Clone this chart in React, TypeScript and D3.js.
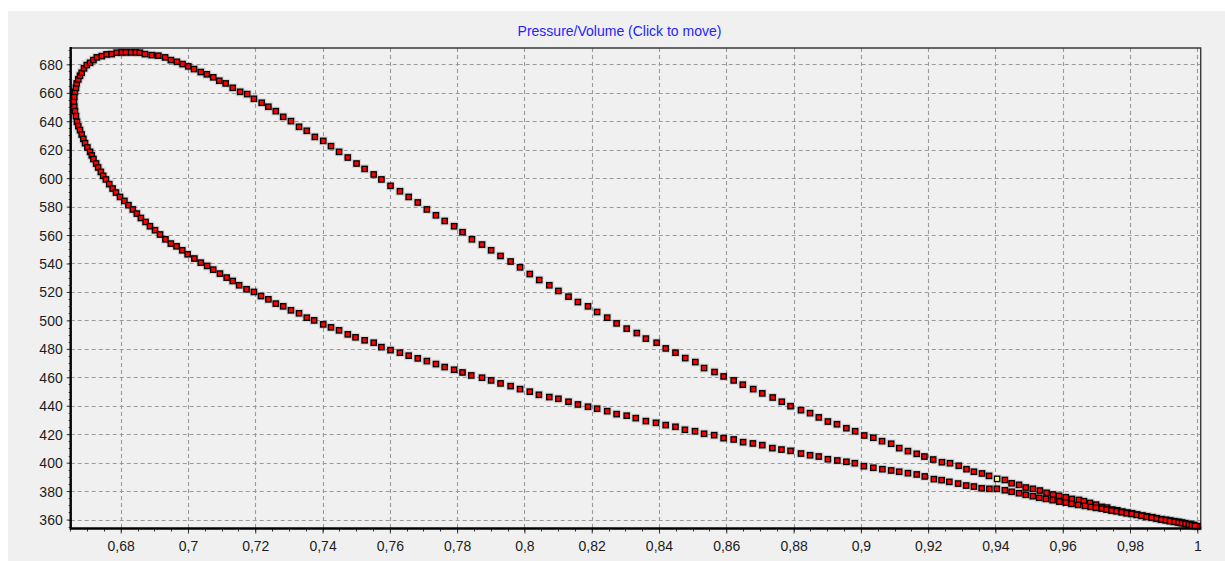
import { useEffect, useRef } from "react";
import * as d3 from "d3";

// Upper branch of the loop: from the left nose, over the peak, down to V = 1
const upperVolume = [
  0.6661, 0.6662, 0.6664, 0.6667, 0.6669, 0.6674, 0.6679, 0.6684, 0.6691, 0.6699,
  0.6709, 0.6719, 0.6729, 0.6744, 0.6758, 0.6773, 0.6788, 0.6803, 0.6816, 0.6831,
  0.6845, 0.6857, 0.6872, 0.6892, 0.6912, 0.6932, 0.6949, 0.6967, 0.6984, 0.7001,
  0.7018, 0.7038, 0.7056, 0.7075, 0.7093, 0.7112, 0.7133, 0.7155, 0.7176, 0.7196,
  0.7219, 0.7239, 0.7261, 0.7283, 0.7306, 0.733, 0.7353, 0.7377, 0.7402, 0.7425,
  0.7449, 0.7475, 0.7501, 0.7525, 0.7552, 0.7575, 0.7602, 0.763, 0.7656, 0.7683,
  0.771, 0.7737, 0.7763, 0.7791, 0.7816, 0.7844, 0.7874, 0.7901, 0.7929, 0.7959,
  0.7987, 0.8016, 0.8044, 0.8074, 0.8101, 0.8131, 0.8159, 0.8189, 0.8216, 0.8246,
  0.8274, 0.8304, 0.8334, 0.8361, 0.8393, 0.842, 0.8449, 0.8478, 0.8508, 0.8534,
  0.8565, 0.8592, 0.8622, 0.8649, 0.868, 0.8707, 0.8738, 0.8765, 0.8791, 0.8822,
  0.8849, 0.8875, 0.8902, 0.8929, 0.8957, 0.8983, 0.901, 0.9037, 0.9063, 0.909,
  0.9114, 0.914, 0.9166, 0.9189, 0.9215, 0.9241, 0.9265, 0.9291, 0.9314, 0.9336,
  0.936, 0.9381, 0.9405, 0.9428, 0.9448, 0.947, 0.949, 0.9511, 0.9532, 0.9552,
  0.9571, 0.9589, 0.9609, 0.9627, 0.9648, 0.9663, 0.9681, 0.9699, 0.9716, 0.9732,
  0.9747, 0.9762, 0.9777, 0.9793, 0.9806, 0.9821, 0.9837, 0.9851, 0.9866, 0.9879,
  0.9892, 0.9906, 0.9919, 0.9931, 0.9943, 0.9954, 0.9963, 0.9972, 0.9981, 0.999,
  1.0,
];
const upperPressure = [
  653.7, 657.2, 660.7, 663.5, 666.6, 669.4, 672, 674.1, 677.2, 679.5,
  681.1, 683, 684.9, 685.8, 687, 687.2, 688.2, 688.4, 688.4, 688.4,
  688.4, 688.2, 687.2, 686.5, 686.1, 684.9, 683, 681.8, 680.2, 678.6,
  676.7, 674.6, 673, 670.9, 668.5, 666.6, 663.5, 660.7, 659.1, 655.8,
  653, 650.2, 647.1, 643.1, 640.1, 636.1, 633.3, 629, 626.2, 622.5,
  618.5, 614.5, 610.3, 606.5, 602.6, 599.1, 594.6, 590.8, 586.8, 582.9,
  578, 573.9, 569.9, 566.2, 562, 557, 553.3, 549.3, 545.3, 541.4,
  537.3, 532.6, 528.4, 524.7, 520.7, 516.7, 512.9, 509.9, 505.9, 501.9,
  497.9, 494.2, 491.1, 487.2, 484.3, 480.3, 477.3, 473.5, 470.7, 466.5,
  463.7, 460.6, 457.8, 454.8, 451.7, 448.7, 445.8, 442.8, 439.7, 436.9,
  434.8, 431.8, 428.9, 427, 424.2, 422.1, 419.1, 417.5, 415.1, 413.3,
  410.2, 408.1, 406.2, 404.3, 402.2, 400.3, 399.6, 397.8, 395.4, 393.6,
  392.4, 390.7, 388.6, 387.8, 385.5, 384.4, 382.5, 381.6, 380.4, 378.8,
  377.6, 376.7, 375.7, 374.5, 373.8, 372.9, 371.7, 370.5, 368.9, 368.4,
  367, 366.5, 365.6, 364.9, 364.4, 363.5, 362.8, 362.1, 361.6, 360.9,
  360.2, 359.8, 359.3, 358.8, 358.4, 357.9, 357.4, 356.9, 356.5, 356.1,
  355.3,
];

// Lower branch: from the left nose down to V = 1
const lowerVolume = [
  0.6662, 0.6664, 0.6667, 0.667, 0.6674, 0.6679, 0.6684, 0.6689, 0.6694, 0.6701,
  0.6709, 0.6714, 0.6719, 0.6727, 0.6733, 0.6741, 0.6748, 0.6756, 0.6766, 0.6776,
  0.6786, 0.6798, 0.6811, 0.6823, 0.6836, 0.6848, 0.686, 0.6874, 0.6887, 0.6902,
  0.6917, 0.6933, 0.6949, 0.6966, 0.6983, 0.6999, 0.7019, 0.7038, 0.7057, 0.7075,
  0.7095, 0.7115, 0.7133, 0.7152, 0.7174, 0.7196, 0.7217, 0.7239, 0.7261, 0.7283,
  0.7306, 0.733, 0.7353, 0.7375, 0.7402, 0.7425, 0.7449, 0.7475, 0.7498, 0.7525,
  0.7552, 0.7575, 0.7602, 0.763, 0.7656, 0.7683, 0.771, 0.7737, 0.7763, 0.7791,
  0.7816, 0.7842, 0.7874, 0.7901, 0.7929, 0.7959, 0.7987, 0.8016, 0.8043, 0.8074,
  0.8101, 0.8131, 0.8159, 0.8189, 0.8216, 0.8246, 0.8274, 0.8304, 0.8331, 0.8361,
  0.8391, 0.842, 0.8449, 0.8477, 0.8507, 0.8534, 0.8564, 0.8592, 0.8622, 0.865,
  0.8679, 0.8707, 0.8737, 0.8764, 0.8791, 0.8822, 0.8849, 0.8875, 0.8902, 0.893,
  0.8957, 0.8982, 0.9009, 0.9037, 0.9064, 0.909, 0.9114, 0.914, 0.9166, 0.919,
  0.9217, 0.924, 0.9263, 0.9289, 0.9313, 0.9336, 0.9359, 0.9382, 0.9404, 0.9428,
  0.9448, 0.947, 0.949, 0.9511, 0.953, 0.955, 0.957, 0.959, 0.9609, 0.9626,
  0.9646, 0.9666, 0.9683, 0.9699, 0.9716, 0.973, 0.9745, 0.976, 0.9775, 0.979,
  0.9805, 0.982, 0.9834, 0.9849, 0.9864, 0.9879, 0.9893, 0.9907, 0.9919, 0.9932,
  0.9944, 0.9955, 0.9965, 0.9975, 0.9984, 0.9993,
];
const lowerPressure = [
  650.2, 647.1, 643.6, 639.6, 636.6, 633.8, 630.7, 627.6, 624.6, 621.6,
  618.5, 616, 613.4, 610.3, 607.5, 604.4, 601.6, 599.1, 595.8, 592.7,
  589.9, 586.8, 584, 581, 578, 575.1, 572, 569.2, 566.2, 563.4,
  560.4, 557, 554, 552.1, 549.3, 546.5, 543.5, 540.6, 538.3, 535.7,
  532.9, 530.1, 527.7, 524.7, 521.9, 520, 517.1, 514.8, 511.8, 509.9,
  507.1, 505, 501.9, 500, 497.2, 495.1, 493, 490.2, 488.1, 486,
  484.3, 481.2, 479.1, 477.3, 475.2, 473.3, 471.4, 469.3, 467.2, 465.3,
  463.4, 461.3, 459.7, 457.8, 455.7, 453.8, 451.7, 449.9, 447.7, 446.1,
  444.9, 442.8, 440.9, 439.3, 437.9, 436.2, 434.1, 433, 431.3, 429.2,
  428, 426.4, 425.2, 423.1, 422.1, 420.3, 419.3, 417.2, 416.3, 414.4,
  413.5, 412.3, 410.2, 409.2, 408.3, 406.4, 405.2, 404.3, 402.4, 401.5,
  400.6, 399.6, 397.5, 396.4, 395.4, 394.5, 393.6, 392.6, 391.7, 390.3,
  388.4, 387.7, 386.5, 385.3, 383.9, 383.2, 382, 381.6, 381.6, 380.6,
  379.5, 378.5, 377.4, 376.4, 375.3, 374.5, 373.6, 372.6, 371.9, 371,
  370.3, 369.6, 368.9, 368.2, 367.7, 367, 366.3, 365.8, 365.1, 364.4,
  364, 363.3, 362.6, 361.9, 361.4, 360.7, 360, 359.5, 358.9, 358.4,
  357.9, 357.4, 356.9, 356.5, 356, 355.6,
];

// the selected (yellow) point sits on the upper branch
const selectedVolume = 0.9405;

const xTicks = [0.68, 0.7, 0.72, 0.74, 0.76, 0.78, 0.8, 0.82, 0.84, 0.86, 0.88, 0.9, 0.92, 0.94, 0.96, 0.98, 1];
const yTicks = [360, 380, 400, 420, 440, 460, 480, 500, 520, 540, 560, 580, 600, 620, 640, 660, 680];
const title = "Pressure/Volume (Click to move)";

const WIDTH = 1225;
const HEIGHT = 561;

const App = () => {
  const svgRef = useRef<SVGSVGElement>(null);

  useEffect(() => {
    const svg = d3.select(svgRef.current);
    svg.selectAll("*").remove();

    const plot = { left: 70.7, right: 1200.7, top: 48, bottom: 528.5 };
    const font = "'Liberation Sans', Arial, sans-serif";

    const x = d3.scaleLinear().domain([0.66514, 1.00101]).range([plot.left, plot.right]);
    const y = d3.scaleLinear().domain([353.7, 691.5]).range([plot.bottom, plot.top]);

    const locale = d3.formatLocale({ decimal: ",", thousands: ".", grouping: [3], currency: ["", ""] });
    const fmt = locale.format("~g");

    // panel background
    svg.append("rect")
      .attr("x", 8).attr("y", 11)
      .attr("width", WIDTH - 8).attr("height", HEIGHT - 11)
      .attr("fill", "#f0f0f0");

    svg.append("text")
      .attr("x", 619.5).attr("y", 36)
      .attr("text-anchor", "middle")
      .attr("font-family", font).attr("font-size", 14)
      .attr("fill", "#2323ff")
      .text(title);

    // grid
    const grid = svg.append("g")
      .attr("stroke", "#9a9a9a").attr("stroke-width", 1.1).attr("stroke-dasharray", "4,3");
    grid.selectAll("line.v").data(xTicks).join("line")
      .attr("class", "v")
      .attr("x1", d => Math.round(x(d)) + 0.5).attr("x2", d => Math.round(x(d)) + 0.5)
      .attr("y1", plot.top).attr("y2", plot.bottom);
    grid.selectAll("line.h").data(yTicks).join("line")
      .attr("class", "h")
      .attr("y1", d => Math.round(y(d)) + 0.5).attr("y2", d => Math.round(y(d)) + 0.5)
      .attr("x1", plot.left).attr("x2", plot.right);

    // minor ticks
    const xMinor = d3.range(0.665, 1.0005, 0.005);
    svg.append("g").selectAll("line").data(xMinor).join("line")
      .attr("x1", d => Math.round(x(d)) + 0.5).attr("x2", d => Math.round(x(d)) + 0.5)
      .attr("y1", plot.bottom).attr("y2", plot.bottom + 3)
      .attr("stroke", "#333");
    const yMinor = d3.range(355, 691, 5);
    svg.append("g").selectAll("line").data(yMinor).join("line")
      .attr("y1", d => Math.round(y(d)) + 0.5).attr("y2", d => Math.round(y(d)) + 0.5)
      .attr("x1", plot.left - 2).attr("x2", plot.left)
      .attr("stroke", "#333");

    // axes
    const xAxis = svg.append("g")
      .attr("transform", `translate(0,${plot.bottom})`)
      .call(d3.axisBottom(x).tickValues(xTicks).tickSize(5).tickPadding(8).tickFormat(d => fmt(+d)));
    const yAxis = svg.append("g")
      .attr("transform", `translate(${plot.left},0)`)
      .call(d3.axisLeft(y).tickValues(yTicks).tickSize(4).tickPadding(4).tickFormat(d => String(d)));
    [xAxis, yAxis].forEach(g => {
      g.select(".domain").remove();
      g.selectAll(".tick line").attr("stroke", "#333");
      g.selectAll(".tick text")
        .attr("font-family", font).attr("font-size", 14).attr("fill", "#1c1c1c");
    });
    yAxis.selectAll(".tick text").attr("dy", "0.36em");

    // frame: thin dark top/right, thick black left/bottom
    svg.append("path")
      .attr("d", `M${plot.left},${plot.top}H${plot.right}V${plot.bottom}`)
      .attr("fill", "none").attr("stroke", "#3a3a3a").attr("stroke-width", 1.4);
    svg.append("path")
      .attr("d", `M${plot.left},${plot.top - 1}V${plot.bottom}H${plot.right + 0.7}`)
      .attr("fill", "none").attr("stroke", "#000").attr("stroke-width", 2.4);

    const points = [
      ...upperVolume.map((v, i) => ({ v, p: upperPressure[i], sel: v === selectedVolume })),
      ...lowerVolume.map((v, i) => ({ v, p: lowerPressure[i], sel: false })),
    ];

    const size = 5.3;
    svg.append("g").selectAll("rect").data(points).join("rect")
      .attr("x", d => x(d.v) - 4.5).attr("y", d => y(d.p) - 4.5)
      .attr("width", 9).attr("height", 9)
      .attr("fill", "#000").attr("opacity", 0.1);

    svg.append("g").selectAll("rect").data(points).join("rect")
      .attr("x", d => x(d.v) - size / 2).attr("y", d => y(d.p) - size / 2)
      .attr("width", size).attr("height", size)
      .attr("fill", d => d.sel ? "#ffff80" : "#ff0000")
      .attr("stroke", "#000").attr("stroke-width", 1.3);
  }, []);

  return (
    <svg
      ref={svgRef}
      width={WIDTH}
      height={HEIGHT}
      style={{ position: "absolute", left: 0, top: 0, background: "#fff" }}
    />
  );
};

export default App;
